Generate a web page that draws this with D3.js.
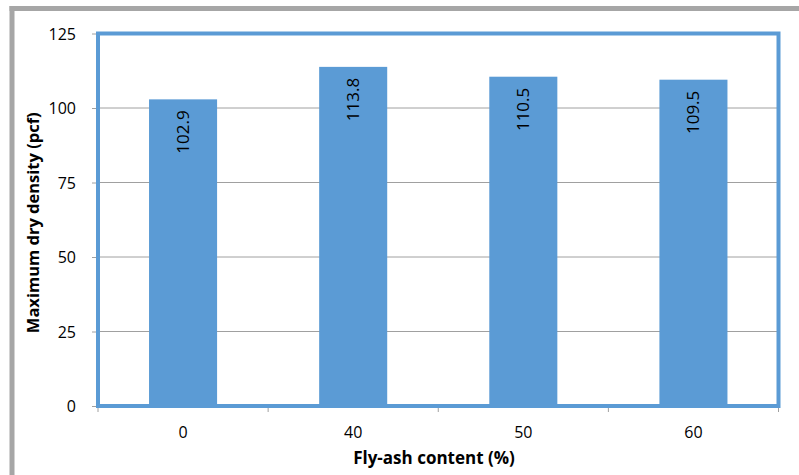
<!DOCTYPE html>
<html><head><meta charset="utf-8">
<script src="https://cdn.jsdelivr.net/npm/d3@7"></script>
<style>body{margin:0;background:#fff;} text{font-family:"Open Sans",sans-serif;}</style>
</head><body>
<svg id="c" width="799" height="475"></svg>
<script>
const categories = ["0", "40", "50", "60"];
const values = [102.9, 113.8, 110.5, 109.5];
const yTicks = [0, 25, 50, 75, 100, 125];
const xTitle = "Fly-ash content (%)";
const yTitle = "Maximum dry density (pcf)";

const svg = d3.select("#c");
const L = 98, R = 778.5, T = 33.5, B = 406;
const x = d3.scaleBand().domain(categories).range([L, R]).padding(0);
const y = d3.scaleLinear().domain([0, 125]).range([B, T]);
const blue = "#5B9BD5";

// outer gray frame
svg.append("line").attr("x1", 12).attr("x2", 12).attr("y1", 6).attr("y2", 475).attr("stroke", "#a6a6a6").attr("stroke-width", 5);
svg.append("line").attr("x1", 9.5).attr("x2", 799).attr("y1", 8.5).attr("y2", 8.5).attr("stroke", "#a6a6a6").attr("stroke-width", 5);

// gridlines
svg.append("g").selectAll("line").data(yTicks.filter(d => d > 0 && d < 125)).join("line")
  .attr("x1", L).attr("x2", R).attr("y1", d => y(d)).attr("y2", d => y(d))
  .attr("stroke", "#a0a0a0").attr("stroke-width", 1);

// y axis
const ya = svg.append("g").attr("transform", `translate(${L},0)`)
  .call(d3.axisLeft(y).tickValues(yTicks).tickSize(6).tickPadding(16));
ya.select(".domain").remove();
ya.selectAll(".tick line").attr("stroke", "#a0a0a0");
ya.selectAll(".tick text").attr("font-size", 16).attr("fill", "#000").attr("font-family", "Open Sans").attr("dy", "0.36em");

// x axis ticks at boundaries
const bounds = d3.range(categories.length + 1).map(i => L + i * x.step());
svg.append("g").selectAll("line").data(bounds).join("line")
  .attr("x1", d => d).attr("x2", d => d).attr("y1", B).attr("y2", B + 6)
  .attr("stroke", "#a0a0a0");
svg.append("g").selectAll("text").data(categories).join("text")
  .attr("x", d => x(d) + x.bandwidth() / 2).attr("y", 438)
  .attr("text-anchor", "middle").attr("font-size", 16).text(d => d);

// bars
const bw = x.bandwidth() * 0.4;
svg.append("g").selectAll("rect").data(values).join("rect")
  .attr("x", (d, i) => x(categories[i]) + x.bandwidth() / 2 - bw / 2)
  .attr("width", bw)
  .attr("y", d => y(d)).attr("height", d => y(0) - y(d))
  .attr("fill", blue);

// bar labels
svg.append("g").selectAll("text").data(values).join("text")
  .attr("transform", (d, i) => `translate(${x(categories[i]) + x.bandwidth() / 2 + 6},${y(d) + 11}) rotate(-90)`)
  .attr("text-anchor", "end").attr("font-size", 17).attr("fill", "#000")
  .text(d => d.toFixed(1));

// plot frame
svg.append("rect").attr("x", L).attr("y", T).attr("width", R - L).attr("height", B - T)
  .attr("fill", "none").attr("stroke", blue).attr("stroke-width", 4);

// titles
svg.append("text").attr("x", 434).attr("y", 464).attr("text-anchor", "middle")
  .attr("font-size", 17).attr("font-weight", "bold").text(xTitle);
svg.append("text").attr("transform", `translate(39,${(T + B) / 2 + 3}) rotate(-90)`)
  .attr("text-anchor", "middle").attr("font-size", 16.5).attr("font-weight", "bold").text(yTitle);
</script>
</body></html>
